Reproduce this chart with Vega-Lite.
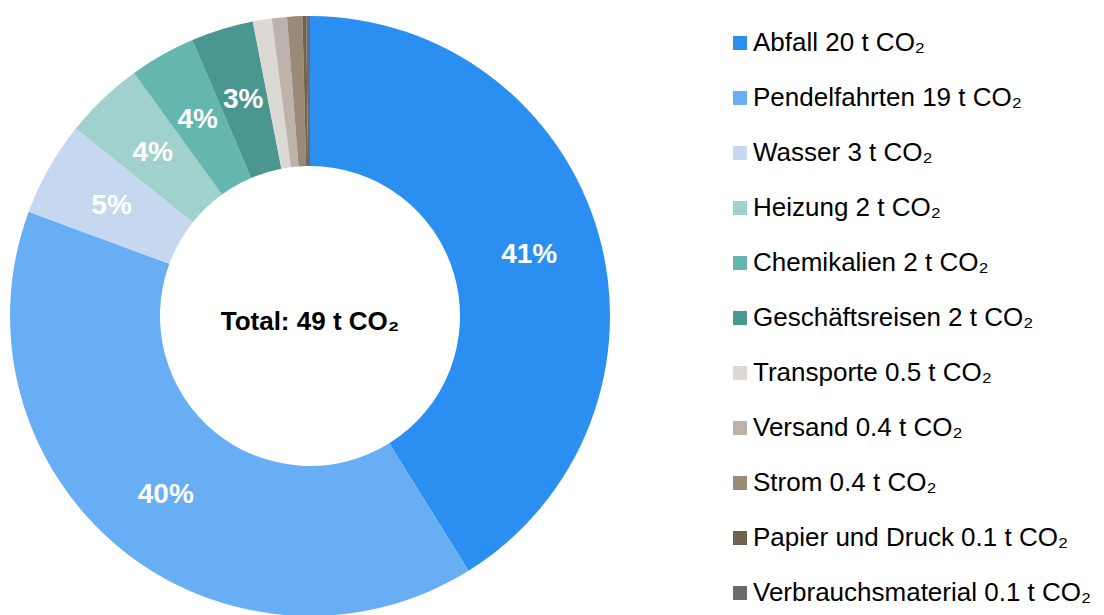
{
  "$schema": "https://vega.github.io/schema/vega-lite/v6.json",
  "width": 600,
  "height": 600,
  "padding": {"left": 10, "top": 16, "right": 0, "bottom": 0},
  "autosize": {"type": "pad"},
  "background": "white",
  "config": {"view": {"stroke": null}, "font": "Liberation Sans"},
  "layer": [
    {
      "data": {
        "values": [
          {"i": 1, "cat": "Abfall 20 t CO₂", "value": 20.2, "label": "41%"},
          {"i": 2, "cat": "Pendelfahrten 19 t CO₂", "value": 19.4, "label": "40%"},
          {"i": 3, "cat": "Wasser 3 t CO₂", "value": 2.5, "label": "5%"},
          {"i": 4, "cat": "Heizung 2 t CO₂", "value": 2.1, "label": "4%"},
          {"i": 5, "cat": "Chemikalien 2 t CO₂", "value": 1.75, "label": "4%"},
          {"i": 6, "cat": "Geschäftsreisen 2 t CO₂", "value": 1.65, "label": "3%"},
          {"i": 7, "cat": "Transporte 0.5 t CO₂", "value": 0.5, "label": ""},
          {"i": 8, "cat": "Versand 0.4 t CO₂", "value": 0.4, "label": ""},
          {"i": 9, "cat": "Strom 0.4 t CO₂", "value": 0.4, "label": ""},
          {"i": 10, "cat": "Papier und Druck 0.1 t CO₂", "value": 0.1, "label": ""},
          {"i": 11, "cat": "Verbrauchsmaterial 0.1 t CO₂", "value": 0.1, "label": ""}
        ]
      },
      "encoding": {
        "theta": {"field": "value", "type": "quantitative", "stack": true},
        "order": {"field": "i", "type": "quantitative"}
      },
      "layer": [
        {
          "mark": {"type": "arc", "outerRadius": 300, "innerRadius": 150},
          "encoding": {
            "color": {
              "field": "cat",
              "type": "nominal",
              "sort": null,
              "scale": {
                "domain": ["Abfall 20 t CO₂", "Pendelfahrten 19 t CO₂", "Wasser 3 t CO₂", "Heizung 2 t CO₂", "Chemikalien 2 t CO₂", "Geschäftsreisen 2 t CO₂", "Transporte 0.5 t CO₂", "Versand 0.4 t CO₂", "Strom 0.4 t CO₂", "Papier und Druck 0.1 t CO₂", "Verbrauchsmaterial 0.1 t CO₂"],
                "range": ["#2b8ff2", "#68aef5", "#c6d7f0", "#a0d1cc", "#64b6ae", "#4a9690", "#dcd8d3", "#bdb3aa", "#9b8a77", "#6e6253", "#6b6b6b"]
              },
              "legend": {
                "title": null,
                "orient": "none",
                "legendX": 717,
                "legendY": 14,
                "symbolType": "square",
                "symbolSize": 196,
                "symbolStrokeWidth": 0,
                "labelFontSize": 26,
                "labelFont": "Liberation Sans",
                "labelColor": "#000000",
                "labelLimit": 400,
                "rowPadding": 29,
                "labelOffset": 0
              }
            }
          }
        },
        {
          "mark": {"type": "text", "radius": 228, "fontSize": 28, "fontWeight": "bold", "color": "white", "font": "Liberation Sans", "dy": 2},
          "encoding": {"text": {"field": "label"}}
        }
      ]
    },
    {
      "data": {"values": [{"t": "Total: 49 t CO₂"}]},
      "mark": {"type": "text", "fontSize": 26, "fontWeight": "bold", "color": "black", "font": "Liberation Sans", "dy": 6},
      "encoding": {"text": {"field": "t"}}
    }
  ]
}
